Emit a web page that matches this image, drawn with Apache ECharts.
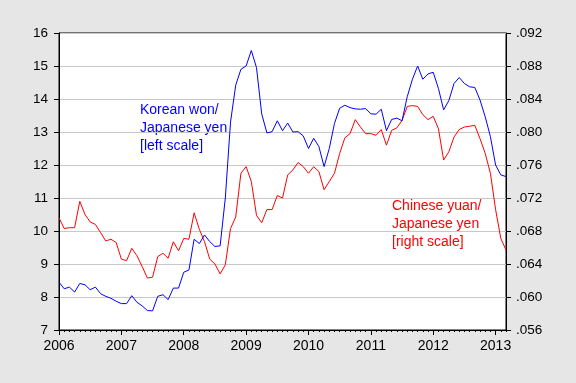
<!DOCTYPE html>
<html>
<head>
<meta charset="utf-8">
<script src="https://cdn.jsdelivr.net/npm/echarts@6/dist/echarts.min.js"></script>
<style>
html,body{margin:0;padding:0;background:#e6e6e6;}
#c{width:576px;height:383px;}
</style>
</head>
<body>
<div id="c"></div>
<script>
// Monthly categories Jan 2006 .. Mar 2013
const months = [];
for (let y = 2006; y <= 2013; y++) {
  for (let m = 1; m <= 12; m++) {
    if (y === 2013 && m > 3) break;
    months.push(y + '-' + (m < 10 ? '0' + m : m));
  }
}
// Korean won / Japanese yen (left scale)
const wonYen = [
  8.45, 8.25, 8.30, 8.15, 8.41, 8.37, 8.22, 8.30, 8.10, 8.02, 7.96, 7.87,
  7.80, 7.80, 8.04, 7.84, 7.73, 7.59, 7.58, 8.02, 8.07, 7.92, 8.27, 8.27,
  8.75, 8.82, 9.75, 9.62, 9.88, 9.68, 9.53, 9.55, 11.00, 13.30, 14.42, 14.90,
  15.00, 15.47, 14.95, 13.55, 12.97, 13.01, 13.34, 13.04, 13.27, 13.00, 13.01, 12.88,
  12.50, 12.81, 12.56, 11.95, 12.50, 13.26, 13.72, 13.81, 13.74, 13.70, 13.69, 13.71,
  13.55, 13.54, 13.69, 13.04, 13.38, 13.42, 13.34, 14.07, 14.60, 15.00, 14.60, 14.76,
  14.81, 14.32, 13.67, 13.95, 14.47, 14.65, 14.47, 14.37, 14.35, 13.97, 13.46, 12.86,
  12.00, 11.70, 11.65
];
// Chinese yuan / Japanese yen (right scale)
const yuanYen = [
  0.0696, 0.0683, 0.0684, 0.0684, 0.0716, 0.0700, 0.0691, 0.0688, 0.0678, 0.0668, 0.0670, 0.0666,
  0.0646, 0.0644, 0.0659, 0.0650, 0.0637, 0.0623, 0.0624, 0.0649, 0.0653, 0.0647, 0.0667, 0.0656,
  0.0671, 0.0670, 0.0702, 0.0682, 0.0667, 0.0646, 0.0640, 0.0628, 0.0639, 0.0683, 0.0697, 0.0750,
  0.0758, 0.0740, 0.0699, 0.0690, 0.0706, 0.0706, 0.0723, 0.0720, 0.0748, 0.0754, 0.0763, 0.0758,
  0.0750, 0.0758, 0.0752, 0.0730, 0.0740, 0.0750, 0.0774, 0.0793, 0.0798, 0.0815, 0.0806, 0.0798,
  0.0798, 0.0796, 0.0803, 0.0784, 0.0802, 0.0805, 0.0814, 0.0831, 0.0832, 0.0831, 0.0821, 0.0815,
  0.0819, 0.0804, 0.0766, 0.0776, 0.0794, 0.0803, 0.0806, 0.0807, 0.0808, 0.0792, 0.0774, 0.0750,
  0.0706, 0.0671, 0.0657
];
const leftTicks = {min: 7, max: 16, interval: 1};
const rightTicks = {min: 0.056, max: 0.092, interval: 0.004};

const FONT = '"Liberation Sans", Arial, sans-serif';
const chart = echarts.init(document.getElementById('c'), null, {renderer: 'canvas'});
const isYear = (i) => i % 12 === 0;
chart.setOption({
  backgroundColor: '#e6e6e6',
  animation: false,
  grid: {left: 59, right: 70, top: 33, bottom: 53, show: true,
         backgroundColor: '#ffffff', borderColor: '#000', borderWidth: 1},
  xAxis: [{
    type: 'category', data: months, boundaryGap: false,
    axisLine: {lineStyle: {color: '#000', width: 1}},
    axisTick: {interval: 0, length: 2, lineStyle: {color: '#000'}},
    axisLabel: {interval: (i) => isYear(i), formatter: (v) => v.slice(0, 4),
                color: '#000', fontSize: 14, fontFamily: FONT, margin: 9},
    splitLine: {show: false}
  }, {
    type: 'category', data: months, boundaryGap: false, position: 'bottom',
    axisLine: {show: false},
    axisTick: {interval: (i) => isYear(i), length: 5, lineStyle: {color: '#000'}},
    axisLabel: {show: false}, splitLine: {show: false}
  }],
  yAxis: [{
    type: 'value', position: 'left', min: leftTicks.min, max: leftTicks.max, interval: leftTicks.interval,
    axisLine: {show: true, lineStyle: {color: '#000'}},
    axisTick: {show: true, length: 5, lineStyle: {color: '#000'}},
    axisLabel: {color: '#000', fontSize: 13.5, fontFamily: FONT, margin: 11},
    splitLine: {show: true, lineStyle: {color: '#c8c8c8', width: 1}}
  }, {
    type: 'value', position: 'right', min: rightTicks.min, max: rightTicks.max, interval: rightTicks.interval,
    axisLine: {show: true, lineStyle: {color: '#000'}},
    axisTick: {show: true, length: 5, lineStyle: {color: '#000'}},
    axisLabel: {color: '#000', fontSize: 13.5, fontFamily: FONT, margin: 10,
                formatter: (v) => v.toFixed(3).replace(/^0/, '')},
    splitLine: {show: false}
  }],
  series: [{
    name: 'Korean won/Japanese yen', type: 'line', data: wonYen,
    xAxisIndex: 0, yAxisIndex: 0, showSymbol: false, symbol: 'none',
    lineStyle: {color: '#0000ff', width: 1}, z: 3
  }, {
    name: 'Chinese yuan/Japanese yen', type: 'line', data: yuanYen,
    xAxisIndex: 0, yAxisIndex: 1, showSymbol: false, symbol: 'none',
    lineStyle: {color: '#ff0000', width: 1}, z: 2
  }],
  graphic: [
    {type: 'text', left: 140, top: 101, style: {text: 'Korean won/\nJapanese yen\n[left scale]',
      fill: '#0000ff', font: '14px ' + FONT, lineHeight: 18}},
    {type: 'text', left: 392, top: 197, style: {text: 'Chinese yuan/\nJapanese yen\n[right scale]',
      fill: '#ff0000', font: '14px ' + FONT, lineHeight: 18}}
  ]
});
</script>
</body>
</html>
